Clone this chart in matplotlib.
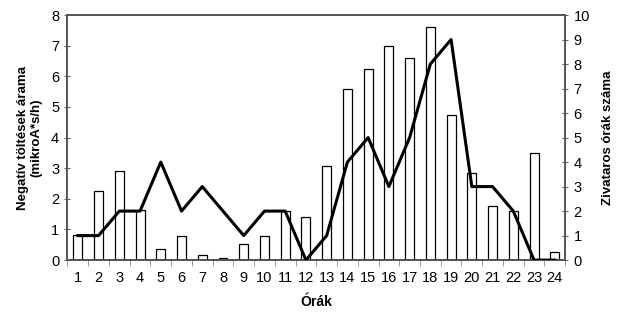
import numpy as np
import matplotlib.pyplot as plt

plt.rcParams['font.family'] = ['Liberation Sans', 'DejaVu Sans']

# hours of the day
hours = list(range(1, 25))
# negative charge current (mikroA*s/h), bars, left axis
current = [0.82, 2.25, 2.92, 1.65, 0.35, 0.78, 0.18, 0.08, 0.52, 0.78, 1.6, 1.42,
           3.08, 5.58, 6.25, 7.0, 6.6, 7.6, 4.75, 2.85, 1.75, 1.6, 3.5, 0.25]
# number of thunderstorm hours, line, right axis
storms = [1, 1, 2, 2, 4, 2, 3, 2, 1, 2, 2, 0,
          1, 4, 5, 3, 5, 8, 9, 3, 3, 2, 0, 0]

fig = plt.figure(figsize=(6.19, 3.13), dpi=100)
ax = fig.add_axes([0.109, 0.169, 0.804, 0.783])
x = np.arange(len(hours))

ax.bar(x, current, width=0.43, color='white', edgecolor='black', linewidth=0.9, zorder=2)
ax.set_xlim(-0.5, len(hours) - 0.5)
ax.set_ylim(0, 8)
ax.set_yticks(range(0, 9))
ax.set_xticks(x)
ax.set_xticklabels([str(h) for h in hours])
ax.set_xticks(np.arange(-0.5, len(hours), 1), minor=True)
ax.tick_params(axis='x', which='major', length=0, labelsize=10.5, pad=8)
ax.tick_params(axis='x', which='minor', length=4, direction='out', color='#888888')
ax.tick_params(axis='y', length=5, direction='inout', labelsize=10.5, color='#666666')
ax.set_xlabel('Órák', fontsize=10, fontweight='bold', labelpad=7)
ax.set_ylabel('Negatív töltések árama\n(mikroA*s/h)', fontsize=9.5, fontweight='bold', labelpad=6)

ax2 = ax.twinx()
ax2.plot(x, storms, color='black', linewidth=2.2, zorder=3)
ax2.set_ylim(0, 10)
ax2.set_yticks(range(0, 11))
ax2.tick_params(axis='y', length=5, direction='inout', labelsize=10.5, color='#666666')
ax2.set_ylabel('Zivataros órák száma', fontsize=9.5, fontweight='bold', labelpad=9)

for a in (ax, ax2):
    for s in a.spines.values():
        s.set_color('#555555')
        s.set_linewidth(1.2)
ax.spines['bottom'].set_color('#333333')

fig.savefig('out.png', dpi=100)
